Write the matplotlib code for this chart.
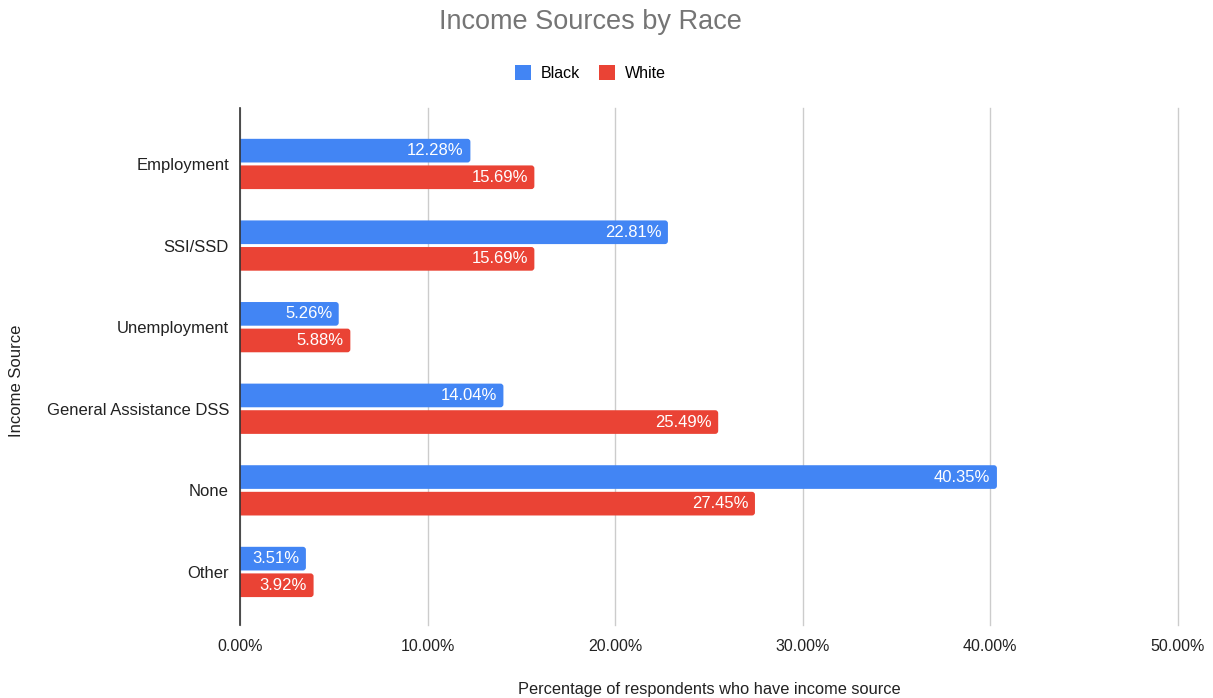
"""Income sources by race, horizontal grouped bars."""

import matplotlib
matplotlib.use("Agg")
import matplotlib.pyplot as plt
from matplotlib.patches import FancyBboxPatch, Patch

categories = ["Employment", "SSI/SSD", "Unemployment", "General Assistance DSS", "None", "Other"]
black_pct = [12.28, 22.81, 5.26, 14.04, 40.35, 3.51]
white_pct = [15.69, 15.69, 5.88, 25.49, 27.45, 3.92]
series_names = ["Black", "White"]
x_ticks = [0, 10, 20, 30, 40, 50]


def main() -> None:
    plt.rcParams.update({"font.family": ["Liberation Sans", "DejaVu Sans"]})
    colors = {"Black": "#4285f4", "White": "#ea4335"}

    fig = plt.figure(figsize=(12.13, 6.98), dpi=100)
    ax = fig.add_axes([0.1979, 0.1046, 0.7732, 0.7407])

    ys = list(range(len(categories)))
    h = 0.29
    off = 0.163
    for vals, name, sign in [(black_pct, "Black", -1), (white_pct, "White", 1)]:
        pos = [y + sign * off for y in ys]
        bars = ax.barh(pos, vals, height=h, color=colors[name], zorder=3)
        # swap the square bars for ones with softly rounded ends
        for r in bars:
            r.set_visible(False)
            ax.add_patch(FancyBboxPatch(
                (r.get_x() - 0.5, r.get_y()), r.get_width() + 0.5, r.get_height(),
                boxstyle="round,pad=0,rounding_size=0.16", mutation_aspect=0.23,
                facecolor=colors[name], edgecolor="none", zorder=3))
        for p, v in zip(pos, vals):
            ax.text(v - 0.35, p, f"{v:.2f}%", ha="right", va="center",
                    color="white", fontsize=12, zorder=4)

    ax.set_xlim(0, 50)
    ax.set_ylim(5.65, -0.686)
    ax.set_xticks(x_ticks)
    ax.set_xticklabels([f"{t:.2f}%" for t in x_ticks], fontsize=11.5, color="#222222")
    ax.set_yticks(ys)
    ax.set_yticklabels(categories, fontsize=12, color="#222222")
    ax.tick_params(length=0, pad=8)
    ax.tick_params(axis="x", pad=10)
    ax.grid(axis="x", color="#cccccc", linewidth=1, zorder=0)
    for line in ax.get_xgridlines():
        line.set_clip_on(False)
    for s in ["top", "right", "bottom"]:
        ax.spines[s].set_visible(False)
    ax.spines["left"].set_color("#333333")
    ax.spines["left"].set_linewidth(1.2)
    ax.spines["left"].set_zorder(5)

    ax.set_xlabel("Percentage of respondents who have income source",
                  fontsize=11.8, color="#222222", labelpad=20)
    fig.text(0.014, 0.455, "Income Source", rotation=90, ha="center", va="center",
             fontsize=12, color="#222222")

    fig.text(0.487, 0.968, "Income Sources by Race", ha="center", va="center",
             fontsize=19.5, color="#757575")
    handles = [Patch(facecolor=colors[n], edgecolor="none") for n in series_names]
    fig.legend(handles, series_names, loc="center", bbox_to_anchor=(0.487, 0.895),
               ncol=2, frameon=False, fontsize=11.5, handlelength=1.0, handleheight=1.0,
               columnspacing=1.2, handletextpad=0.6)

    fig.savefig("out.png", dpi=100)
    plt.close(fig)


if __name__ == "__main__":
    main()
